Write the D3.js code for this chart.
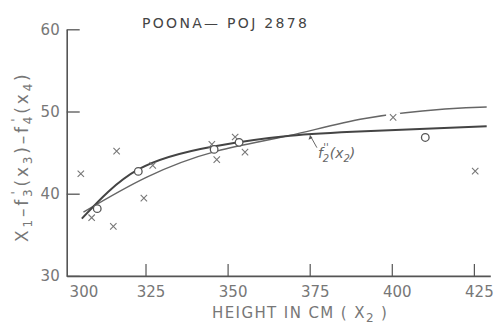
<!DOCTYPE html>
<html><head><meta charset="utf-8">
<script src="https://cdn.jsdelivr.net/npm/d3@7"></script>
<style>
body{margin:0;background:#fff}
svg{display:block}
text{font-family:"DejaVu Sans",sans-serif}
</style>
</head><body>
<svg id="chart" width="495" height="324"></svg>
<script>
// Tick labels
const xTicks = [300, 325, 350, 375, 400, 425];
const yTicks = [30, 40, 50, 60];

// Fitted curve f2''(x2) (heavier line, flattens at the right)
const curveAx = [305.6, 322.8, 345.7, 369.0, 391.8, 428.9];
const curveAy = [36.96, 42.95, 45.75, 47.05, 47.6, 48.22];

// Second fitted curve (lighter line, keeps rising)
const curveBx = [306.1, 325.4, 346.7, 369.0, 391.8, 416.2, 428.9];
const curveBy = [37.76, 42.02, 45.18, 47.09, 49.15, 50.3, 50.55];

// Class means (open circles)
const circleX = [310.3, 322.8, 345.9, 353.5, 410.2];
const circleY = [38.18, 42.71, 45.39, 46.25, 46.84];

// Individual observations (crosses)
const crossX = [305.3, 308.6, 315.2, 316.2, 324.5, 327.2, 345.2, 346.7, 352.3, 355.3, 400.4, 425.4];
const crossY = [42.43, 37.08, 36.02, 45.18, 39.46, 43.44, 46.0, 44.14, 46.9, 45.06, 49.28, 42.75];

const svg = d3.select("#chart");
const x = d3.scaleLinear().domain([301, 430]).range([66.7, 490.3]);
const y = d3.scaleLinear().domain([30, 60]).range([275.9, 29.3]);

const axisCol = "#555", labCol = "#777";

// X axis with inward ticks
const gx = svg.append("g").attr("transform", `translate(0,${y(30)})`)
  .call(d3.axisBottom(x).tickValues(xTicks).tickSize(-12).tickPadding(10).tickSizeOuter(0));
gx.select(".domain").attr("stroke", axisCol).attr("stroke-width", 1.6);
gx.selectAll(".tick line").attr("stroke", axisCol).attr("stroke-width", 1.2)
  .attr("display", d => d === 300 ? "none" : null);
gx.selectAll(".tick text").attr("fill", labCol).attr("font-size", 15)
  .attr("dx", d => d === 300 ? 20 : 5);

// Y axis with inward ticks
const gy = svg.append("g").attr("transform", `translate(${x(301)},0)`)
  .call(d3.axisLeft(y).tickValues(yTicks).tickSize(-13).tickPadding(7).tickSizeOuter(0));
gy.select(".domain").attr("stroke", axisCol).attr("stroke-width", 1.6);
gy.selectAll(".tick line").attr("stroke", axisCol).attr("stroke-width", 1.3);
gy.selectAll(".tick text").attr("fill", labCol).attr("font-size", 15);
svg.selectAll(".domain").attr("fill", "none");

// Curves
const line = d3.line().x(d => x(d[0])).y(d => y(d[1])).curve(d3.curveNatural);
svg.append("path").datum(d3.zip(curveBx, curveBy)).attr("d", line)
  .attr("fill", "none").attr("stroke", "#666").attr("stroke-width", 1.4);
svg.append("path").datum(d3.zip(curveAx, curveAy)).attr("d", line)
  .attr("fill", "none").attr("stroke", "#444").attr("stroke-width", 2);

// Crosses; the one lying on the upper curve gets a white halo to break the line
const cross = svg.append("g").selectAll("g").data(d3.zip(crossX, crossY)).join("g")
  .attr("transform", d => `translate(${x(d[0])},${y(d[1])})`);
const s = 3.2;
cross.filter(d => d[0] > 390 && d[0] < 410).append("rect")
  .attr("x", -7).attr("y", -5).attr("width", 14).attr("height", 10).attr("fill", "#fff");
cross.append("path").attr("d", `M${-s},${-s}L${s},${s}M${-s},${s}L${s},${-s}`)
  .attr("stroke", "#777").attr("stroke-width", 1.1);

// Circles
svg.append("g").selectAll("circle").data(d3.zip(circleX, circleY)).join("circle")
  .attr("cx", d => x(d[0])).attr("cy", d => y(d[1])).attr("r", 3.8)
  .attr("fill", "#fff").attr("stroke", "#555").attr("stroke-width", 1.3);

// Annotation arrow and label for f2''(x2)
const tip = [375.1, 47.1], tail = [377.2, 45.6];
svg.append("line").attr("x1", x(tail[0])).attr("y1", y(tail[1]))
  .attr("x2", x(tip[0])).attr("y2", y(tip[1])).attr("stroke", "#666").attr("stroke-width", 1);
svg.append("path")
  .attr("d", `M${x(tip[0])},${y(tip[1])}l-1.5,4.5l4,-1.8z`)
  .attr("fill", "#555");
const ann = svg.append("text").attr("x", x(377.5)).attr("y", y(44.4))
  .attr("fill", "#666").attr("font-size", 14).attr("font-family", "DejaVu Serif, serif").attr("font-style", "italic");
ann.append("tspan").text("f");
ann.append("tspan").attr("dy", 4).attr("font-size", 10).text("2");
ann.append("tspan").attr("dy", -11).attr("dx", -6).attr("font-size", 10).text("''");
ann.append("tspan").attr("dy", 7).attr("dx", 1).text("(x");
ann.append("tspan").attr("dy", 4).attr("font-size", 10).text("2");
ann.append("tspan").attr("dy", -4).text(")");

// Title
svg.append("text").attr("x", 142).attr("y", 28).attr("fill", "#444")
  .attr("font-size", 14).attr("letter-spacing", 2.3).text("POONA\u2014 POJ 2878");

// X axis title
const xt = svg.append("text").attr("x", 212).attr("y", 318).attr("fill", labCol)
  .attr("font-size", 15).attr("letter-spacing", 1.4);
xt.append("tspan").text("HEIGHT IN CM ( X");
xt.append("tspan").attr("dy", 4).attr("font-size", 12).text("2");
xt.append("tspan").attr("dy", -4).text(" )");

// Y axis title
const yt = svg.append("text").attr("transform", "translate(28,242) rotate(-90)")
  .attr("fill", labCol).attr("font-size", 17).attr("letter-spacing", 2.8);
yt.append("tspan").text("X");
yt.append("tspan").attr("dy", 4).attr("font-size", 12).text("1");
yt.append("tspan").attr("dy", -4).text("\u2013f");
yt.append("tspan").attr("dy", 4).attr("font-size", 12).text("3");
yt.append("tspan").attr("dy", -12).attr("dx", -8).attr("font-size", 12).text("'");
yt.append("tspan").attr("dy", 8).attr("dx", 2).text("(x");
yt.append("tspan").attr("dy", 4).attr("font-size", 12).text("3");
yt.append("tspan").attr("dy", -4).text(")\u2013f");
yt.append("tspan").attr("dy", 4).attr("font-size", 12).text("4");
yt.append("tspan").attr("dy", -12).attr("dx", -8).attr("font-size", 12).text("'");
yt.append("tspan").attr("dy", 8).attr("dx", 2).text("(x");
yt.append("tspan").attr("dy", 4).attr("font-size", 12).text("4");
yt.append("tspan").attr("dy", -4).text(")");
</script>
</body></html>
